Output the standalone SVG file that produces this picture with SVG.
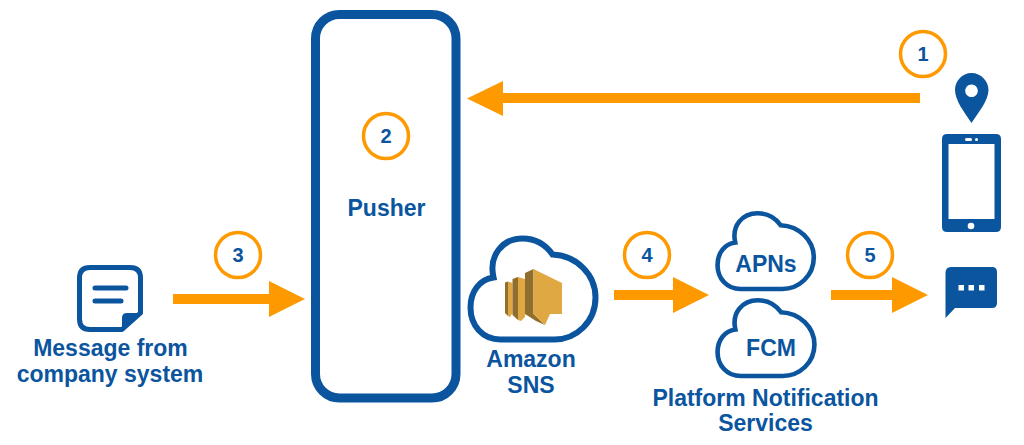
<svg xmlns="http://www.w3.org/2000/svg" width="1024" height="445" viewBox="0 0 1024 445">
<style>
text{font-family:"Liberation Sans",Arial,sans-serif;font-weight:bold;fill:#0b559f;text-anchor:middle}
.l{font-size:23px}
.n{font-size:20px}
.c{fill:#fff;stroke:#ff9900;stroke-width:3.500}
.cl{fill:#fff;stroke:#0b559f;stroke-width:6}
.s{fill:#0b559f}
.a{fill:#ff9900}
.g1{fill:#dfa842}
.g2{fill:#8f6e2e}
</style>
<defs>
<path id="cloud" d="M25,42C20,20 34,3 54,3C67,3 77,9 84,19C108,20 127,39 127,62C127,86 108,104 86,104H32C14,104 2,90 2,72C2,56 11,44 25,42Z"/>
</defs>
<rect width="1024" height="445" fill="#fff"/>
<g id="connectors">
<path class="a" d="M920,93H503V81L467,98.500L503,116V103H920Z"/>
<path class="a" d="M173,294H269V281L305,299L269,317V304H173Z"/>
<path class="a" d="M614,290H673V277L709,295L673,313V300H614Z"/>
<path class="a" d="M831,290H892V277L928,295L892,313V300H831Z"/>
</g>
<g id="pusher">
<rect x="315.500" y="14.500" width="140.500" height="383.500" rx="24" fill="#fff" stroke="#0b559f" stroke-width="9"/>
<text class="l" x="386.500" y="215.500">Pusher</text>
</g>
<g id="step1"><circle class="c" cx="923" cy="54" r="22.500"/><text class="n" x="923" y="61">1</text></g>
<g id="step2"><circle class="c" cx="386" cy="136" r="22.500"/><text class="n" x="386" y="143">2</text></g>
<g id="step3"><circle class="c" cx="238" cy="255" r="22.500"/><text class="n" x="238" y="262">3</text></g>
<g id="step4"><circle class="c" cx="647" cy="255" r="22.500"/><text class="n" x="647" y="262">4</text></g>
<g id="step5"><circle class="c" cx="870" cy="255" r="22.500"/><text class="n" x="870" y="262">5</text></g>
<g id="message">
<path d="M90,267.500H130Q140.500,267.500 140.500,278V313L122,329.500H90Q79.500,329.500 79.500,319V278Q79.500,267.500 90,267.500Z" fill="#fff" stroke="#0b559f" stroke-width="5" stroke-linejoin="round"/>
<path class="s" d="M122,331V318Q122,313 127,313H142Z"/>
<path d="M95,288H126M95,301H121" stroke="#0b559f" stroke-width="5" stroke-linecap="round" fill="none"/>
<text class="l" x="110.500" y="355.500">Message from</text>
<text class="l" x="110" y="381.500">company system</text>
</g>
<g id="sns">
<use href="#cloud" class="cl" transform="translate(468.500,235.500)"/>
<path class="g2" d="M505,282.500L508,281.500V316L505,313Z"/>
<path class="g1" d="M508,281.500L512.500,283V313L510,317L508,316Z"/>
<path class="g2" d="M512.500,279L518,277V320L512.500,315Z"/>
<path class="g1" d="M518,277L525,279V317L521,321L518,320Z"/>
<path class="g2" d="M525,273L533.500,269V314L545,325L536,321L525,314Z"/>
<path class="g1" d="M533.500,269L562,283V314L550,314L545,325L533.500,314Z"/>
<text class="l" x="531" y="366.500">Amazon</text>
<text class="l" x="531" y="392.500">SNS</text>
</g>
<g id="apns">
<use href="#cloud" class="cl" transform="translate(716,211) scale(.77,.75)"/>
<text class="l" x="766" y="271.500">APNs</text>
</g>
<g id="fcm">
<use href="#cloud" class="cl" transform="translate(716,298) scale(.775,.75)"/>
<text class="l" x="771" y="355.500">FCM</text>
</g>
<g id="platform">
<text class="l" x="765.500" y="405.500">Platform Notification</text>
<text class="l" x="765.500" y="430.500">Services</text>
</g>
<g id="pin">
<path class="s" fill-rule="evenodd" d="M971.500,73C981,73 988.500,81 988.500,90C988.500,100 979,112 971.500,123C964,112 955,100 955,90C955,81 962,73 971.500,73ZM971.500,84.500A6.300,6.300 0 1 0 971.510,84.500Z"/>
</g>
<g id="phone">
<path class="s" fill-rule="evenodd" d="M947,134H996Q1001,134 1001,139V227Q1001,232 996,232H947Q942,232 942,227V139Q942,134 947,134ZM948.500,144V219H994.500V144Z"/>
<rect x="965" y="138" width="7" height="3" rx="1.500" fill="#fff"/><circle cx="976.500" cy="139.500" r="1.500" fill="#fff"/>
<circle cx="971" cy="226" r="3.300" fill="#fff"/>
</g>
<g id="chat">
<path class="s" d="M951,267H992Q997,267 997,272V303Q997,308 992,308H955L945.500,318V273Q945.500,267 951,267Z"/>
<rect x="958.500" y="285" width="5.500" height="5.500" fill="#fff"/><rect x="968.500" y="285" width="5.500" height="5.500" fill="#fff"/><rect x="979" y="285" width="5.500" height="5.500" fill="#fff"/>
</g>
</svg>
